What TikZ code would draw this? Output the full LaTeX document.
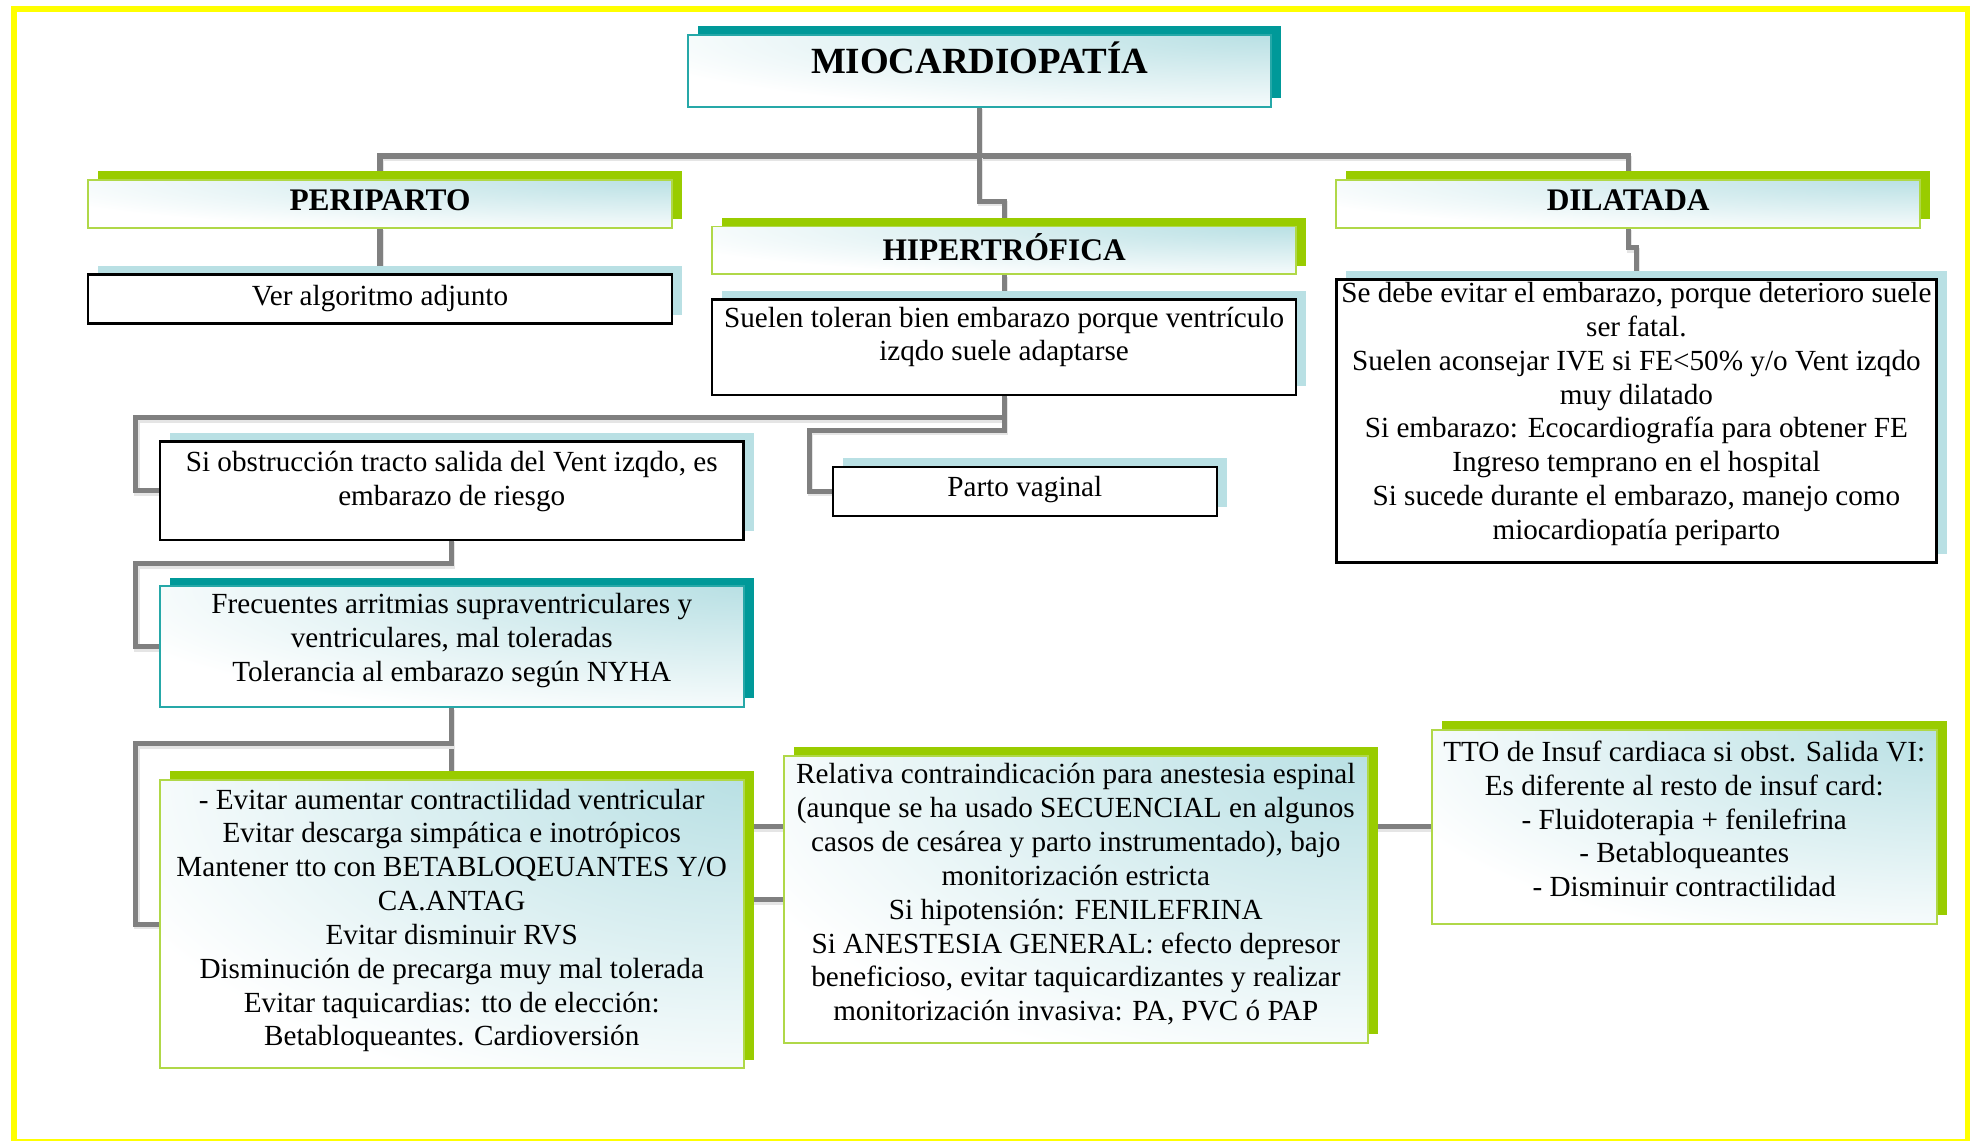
\documentclass[tikz,border=0pt]{standalone}
\usepackage{fontspec}
\setmainfont{Liberation Serif}
\usetikzlibrary{calc,positioning,shadows,backgrounds}
\definecolor{tealdk}{RGB}{0,153,153}
\definecolor{grn}{RGB}{153,204,0}
\definecolor{grnlt}{RGB}{176,216,72}
\definecolor{ltteal}{RGB}{185,224,228}
\definecolor{conngray}{RGB}{128,128,128}
\definecolor{yel}{RGB}{255,255,0}

\begin{document}
\begin{tikzpicture}[scale=0.2,
  box/.style={anchor=north west, inner sep=0pt, outer sep=0pt},
  grad/.style={path picture={\shade[inner color=ltteal, outer color=white]
    ($(path picture bounding box.north east)!1.15!(path picture bounding box.south west)$) rectangle
    ($(path picture bounding box.north east)!-1.15!(path picture bounding box.south west)$);}},
  greenbox/.style={box, grad, draw=grnlt, line width=0.9pt, general shadow={fill=grn, shadow xshift=0.16cm, shadow yshift=0.14cm}},
  tealbox/.style={box, grad, draw=tealdk!85!white, line width=0.9pt, general shadow={fill=tealdk, shadow xshift=0.16cm, shadow yshift=0.14cm}},
  plainbox/.style={box, fill=white, draw=black, line width=1.1pt, general shadow={fill=ltteal, shadow xshift=0.16cm, shadow yshift=0.14cm}},
  txt/.style={anchor=north, align=center, inner sep=0pt, font=\fontsize{13.2}{15.3}\selectfont, execute at begin node=\strut},
  ttl/.style={txt, font=\bfseries\fontsize{14.2}{16.5}\selectfont},
  conn/.style={draw=conngray, line width=2.3pt, preaction={draw=black!10, line width=2.3pt, transform canvas={shift={(0.5pt,-1.1pt)}}}}
]
\tikzstyle{every node}+=[inner sep=0pt]
\useasboundingbox (0,0) rectangle (156.8,-90.6);
\node[tealbox, minimum width=9.26cm, minimum height=1.14cm] (mio) at (54.7,-2.8) {};
\node[greenbox, minimum width=9.28cm, minimum height=0.76cm] (peri) at (7.0,-14.3) {};
\node[plainbox, minimum width=9.28cm, minimum height=0.78cm] (ver) at (7.0,-21.8) {};
\node[greenbox, minimum width=9.28cm, minimum height=0.76cm] (hiper) at (56.6,-18.0) {};
\node[plainbox, minimum width=9.28cm, minimum height=1.52cm] (suel) at (56.6,-23.8) {};
\node[greenbox, minimum width=9.28cm, minimum height=0.76cm] (dila) at (106.2,-14.3) {};
\node[plainbox, minimum width=9.54cm, minimum height=4.5cm] (dilt) at (106.2,-22.2) {};
\node[plainbox, minimum width=9.28cm, minimum height=1.56cm] (siob) at (12.7,-35.1) {};
\node[plainbox, minimum width=6.1cm, minimum height=0.78cm] (parto) at (66.2,-37.1) {};
\node[tealbox, minimum width=9.28cm, minimum height=1.92cm] (frec) at (12.7,-46.6) {};
\node[greenbox, minimum width=9.28cm, minimum height=4.58cm] (evit) at (12.7,-62.0) {};
\node[greenbox, minimum width=9.28cm, minimum height=4.56cm] (rela) at (62.3,-60.1) {};
\node[greenbox, minimum width=8.02cm, minimum height=3.08cm] (tto) at (113.8,-58.0) {};

\node[ttl, font=\bfseries\fontsize{16.7}{19.4}\selectfont, below=0.1cm of mio.north] (mio-t) {MIOCARDIOPATÍA};
\node[ttl, below=0.08cm of peri.north] (peri-t) {PERIPARTO};
\node[ttl, below=0.1cm of hiper.north] (hiper-t) {HIPERTRÓFICA};
\node[ttl, below=0.08cm of dila.north] (dila-t) {DILATADA};
\node[txt, below=0.11cm of ver.north] (ver-t) {Ver algoritmo adjunto};
\node[txt, below=0.11cm of suel.north] (suel-t) {Suelen toleran bien embarazo porque ventrículo\\izqdo suele adaptarse};
\node[txt, below=0.04cm of dilt.north] (dilt-t) {Se debe evitar el embarazo, porque deterioro suele\\ser fatal.\\Suelen aconsejar IVE si FE<50\% y/o Vent izqdo\\muy dilatado\\Si embarazo: Ecocardiografía para obtener FE\\Ingreso temprano en el hospital\\Si sucede durante el embarazo, manejo como\\miocardiopatía periparto};
\node[txt, below=0.15cm of siob.north] (siob-t) {Si obstrucción tracto salida del Vent izqdo, es\\embarazo de riesgo};
\node[txt, below=0.09cm of parto.north] (parto-t) {Parto vaginal};
\node[txt, below=0.11cm of frec.north] (frec-t) {Frecuentes arritmias supraventriculares y\\ventriculares, mal toleradas\\Tolerancia al embarazo según NYHA};
\node[txt, below=0.13cm of evit.north] (evit-t) {- Evitar aumentar contractilidad ventricular\\Evitar descarga simpática e inotrópicos\\Mantener tto con BETABLOQEUANTES Y/O\\CA.ANTAG\\Evitar disminuir RVS\\Disminución de precarga muy mal tolerada\\Evitar taquicardias: tto de elección:\\Betabloqueantes. Cardioversión};
\node[txt, below=0.11cm of rela.north] (rela-t) {Relativa contraindicación para anestesia espinal\\(aunque se ha usado SECUENCIAL en algunos\\casos de cesárea y parto instrumentado), bajo\\monitorización estricta\\Si hipotensión: FENILEFRINA\\Si ANESTESIA GENERAL: efecto depresor\\beneficioso, evitar taquicardizantes y realizar\\monitorización invasiva: PA, PVC ó PAP};
\node[txt, below=0.17cm of tto.north] (tto-t) {TTO de Insuf cardiaca si obst. Salida VI:\\Es diferente al resto de insuf card:\\- Fluidoterapia + fenilefrina\\- Betabloqueantes\\- Disminuir contractilidad};
\coordinate (rela-up) at ($(rela.west)+(0,5.8)$);

\begin{scope}[on background layer]
\fill[white] (0,0) rectangle (156.8,-90.6);
\draw[yel, line width=2.5pt] (1.1,-0.7) rectangle (156.35,-90.75);
\draw[conn] (mio.south) -- ++(0,-3.9) coordinate (trunk);
\draw[conn] (peri.north) |- (trunk) -| (dila.north);
\draw[conn] (trunk) -- ++(0,-3.6) -| (hiper.north);
\draw[conn] (peri.south) -- (ver.north);
\draw[conn] (dila.south) -- ++(0,-1.6) -| (dilt.north);
\draw[conn] (hiper.south) -- (suel.north);
\draw[conn] (suel.south) -- ++(0,-1.8) -| ($(siob.west)+(-1.9,0)$) -- (siob.west);
\draw[conn] (suel.south) -- ++(0,-2.8) -| ($(parto.west)+(-1.9,0)$) -- (parto.west);
\draw[conn] (siob.south) -- ++(0,-1.9) -| ($(frec.west)+(-1.9,0)$) -- (frec.west);
\draw[conn] (frec.south) -- (evit.north);
\draw[conn] (frec.south) -- ++(0,-2.9) -| ($(evit.west)+(-1.9,0)$) -- (evit.west);
\draw[conn] (rela-up) -- (rela-up -| evit.east);
\draw[conn] (rela.west) -- (rela.west -| evit.east);
\draw[conn] (tto.west) -- (tto.west -| rela.east);
\end{scope}
\end{tikzpicture}
\end{document}
